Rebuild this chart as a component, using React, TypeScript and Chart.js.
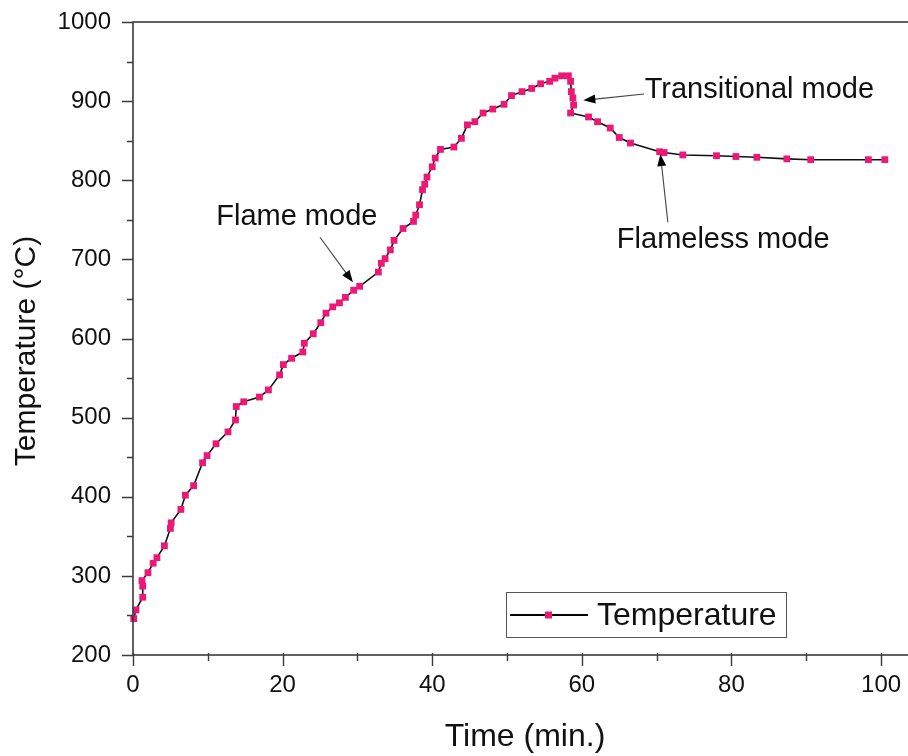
import React, { useEffect, useRef } from "react";
import { Chart, registerables } from "chart.js";

Chart.register(...registerables);

// ---- data ----
const timeMin = [
  0.1, 0.4, 1.3, 1.3, 1.2, 2.0, 2.7, 3.2, 4.2, 5.0, 5.1, 6.4, 7.0, 8.1, 9.3, 9.9,
  11.1, 12.7, 13.7, 13.8, 14.8, 16.9, 18.1, 19.6, 20.1, 21.2, 22.7, 22.9, 24.1,
  25.1, 25.8, 26.7, 27.6, 28.4, 29.5, 30.3, 32.8, 33.2, 33.7, 34.4, 34.9, 36.1,
  37.5, 37.8, 38.3, 38.7, 39.0, 39.3, 40.0, 40.4, 41.1, 42.9, 43.9, 44.7, 45.7,
  46.8, 48.1, 49.6, 50.6, 52.0, 53.3, 54.5, 55.7, 56.4, 57.3, 58.2, 58.5, 58.6,
  58.8, 58.9, 58.5, 60.9, 62.1, 63.8, 65.0, 66.5, 70.4, 71.0, 73.5, 78.0, 80.6,
  83.4, 87.4, 90.6, 98.3, 100.5,
];
const tempC = [
  246, 257, 273, 287, 294, 304, 316, 323, 338, 360, 367, 384, 402, 414, 443, 452,
  467, 482, 497, 514, 520, 526, 535, 554, 567, 575, 583, 594, 606,
  620, 632, 640, 645, 652, 661, 666, 684, 695, 701, 712, 724, 739,
  748, 756, 769, 788, 795, 804, 817, 828, 839, 842, 853, 870, 874,
  885, 890, 896, 907, 912, 916, 922, 925, 929, 932, 932, 925, 912,
  904, 895, 885, 880, 874, 866, 854, 847, 836, 835, 832, 831, 830,
  829, 827, 826, 826, 826,
];

const xMajorTicks = [0, 20, 40, 60, 80, 100];
const xMinorTicks = [10, 30, 50, 70, 90];
const yMajorTicks = [200, 300, 400, 500, 600, 700, 800, 900, 1000];
const yMinorTicks = [250, 350, 450, 550, 650, 750, 850, 950];

const seriesName = "Temperature";
const xTitle = "Time (min.)";
const yTitle = "Temperature (°C)";

// annotations (data coordinates)
const noteLabels = ["Flame mode", "Transitional mode", "Flameless mode"];
const noteTextX = [21.9, 68.4, 78.9];
const noteTextY = [753, 914, 724];
const noteAlign = ["center", "left", "center"];
const arrowTailX = [25.0, 68.3, 71.5];
const arrowTailY = [728, 909, 747];
const arrowTipX = [29.4, 60.2, 70.5];
const arrowTipY = [671, 901, 833];

const PINK = "rgb(236, 24, 118)";
const FONT = "'Liberation Sans', Arial, Helvetica, sans-serif";

export default function App() {
  const ref = useRef<HTMLCanvasElement>(null);

  useEffect(() => {
    const canvas = ref.current;
    if (!canvas) return;

    const points = timeMin.map((t, i) => ({ x: t, y: tempC[i] }));

    const overlay = {
      id: "overlay",
      afterDraw(chart: any) {
        const { ctx, chartArea } = chart;
        const xs = chart.scales.x;
        const ys = chart.scales.y;
        ctx.save();

        // frame
        ctx.strokeStyle = "#3a3a3a";
        ctx.lineWidth = 1.6;
        ctx.strokeRect(chartArea.left, chartArea.top, chartArea.right - chartArea.left, chartArea.bottom - chartArea.top);

        // ticks (outward)
        ctx.lineWidth = 1.4;
        ctx.beginPath();
        xMajorTicks.forEach((v) => {
          const px = Math.round(xs.getPixelForValue(v)) + 0.5;
          ctx.moveTo(px, chartArea.bottom - 2);
          ctx.lineTo(px, chartArea.bottom + 11);
        });
        xMinorTicks.forEach((v) => {
          const px = Math.round(xs.getPixelForValue(v)) + 0.5;
          ctx.moveTo(px, chartArea.bottom - 2);
          ctx.lineTo(px, chartArea.bottom + 6);
        });
        yMajorTicks.forEach((v) => {
          const py = Math.round(ys.getPixelForValue(v)) + 0.5;
          ctx.moveTo(chartArea.left - 11, py);
          ctx.lineTo(chartArea.left, py);
        });
        yMinorTicks.forEach((v) => {
          const py = Math.round(ys.getPixelForValue(v)) + 0.5;
          ctx.moveTo(chartArea.left - 6, py);
          ctx.lineTo(chartArea.left, py);
        });
        ctx.stroke();

        // axis titles
        ctx.fillStyle = "#111";
        ctx.textAlign = "center";
        ctx.textBaseline = "middle";
        ctx.font = `32px ${FONT}`;
        ctx.fillText(xTitle, 525, 737);
        ctx.font = `30px ${FONT}`;
        ctx.save();
        ctx.translate(27, 351);
        ctx.rotate(-Math.PI / 2);
        ctx.fillText(yTitle, 0, 0);
        ctx.restore();

        // annotations
        ctx.font = `29px ${FONT}`;
        noteLabels.forEach((label, i) => {
          ctx.textAlign = noteAlign[i] as CanvasTextAlign;
          ctx.textBaseline = "middle";
          ctx.fillStyle = "#111";
          ctx.fillText(label, xs.getPixelForValue(noteTextX[i]), ys.getPixelForValue(noteTextY[i]));

          const x0 = xs.getPixelForValue(arrowTailX[i]);
          const y0 = ys.getPixelForValue(arrowTailY[i]);
          const x1 = xs.getPixelForValue(arrowTipX[i]);
          const y1 = ys.getPixelForValue(arrowTipY[i]);
          const ang = Math.atan2(y1 - y0, x1 - x0);
          const hl = 12;
          const hw = 4.5;
          ctx.strokeStyle = "#444";
          ctx.lineWidth = 1.1;
          ctx.beginPath();
          ctx.moveTo(x0, y0);
          ctx.lineTo(x1 - Math.cos(ang) * hl * 0.8, y1 - Math.sin(ang) * hl * 0.8);
          ctx.stroke();
          ctx.fillStyle = "#000";
          ctx.beginPath();
          ctx.moveTo(x1, y1);
          ctx.lineTo(x1 - Math.cos(ang) * hl - Math.sin(ang) * hw, y1 - Math.sin(ang) * hl + Math.cos(ang) * hw);
          ctx.lineTo(x1 - Math.cos(ang) * hl + Math.sin(ang) * hw, y1 - Math.sin(ang) * hl - Math.cos(ang) * hw);
          ctx.closePath();
          ctx.fill();
        });

        // legend
        const lx = 506, ly = 592, lw = 280, lh = 45;
        ctx.fillStyle = "#fff";
        ctx.fillRect(lx, ly, lw, lh);
        ctx.strokeStyle = "#555";
        ctx.lineWidth = 1;
        ctx.strokeRect(lx + 0.5, ly + 0.5, lw, lh);
        const my = ly + lh / 2 + 0.5;
        ctx.strokeStyle = "#000";
        ctx.lineWidth = 2;
        ctx.beginPath();
        ctx.moveTo(lx + 4, my);
        ctx.lineTo(lx + 82, my);
        ctx.stroke();
        ctx.fillStyle = PINK;
        ctx.fillRect(lx + 39, my - 3.5, 7, 7);
        ctx.fillStyle = "#111";
        ctx.font = `32px ${FONT}`;
        ctx.textAlign = "left";
        ctx.textBaseline = "middle";
        ctx.fillText(seriesName, lx + 91, my + 1);

        ctx.restore();
      },
    };

    const chart = new Chart(canvas, {
      type: "line",
      data: {
        datasets: [
          {
            label: seriesName,
            data: points,
            borderColor: "#111",
            borderWidth: 1.6,
            tension: 0,
            pointStyle: "rect",
            pointRadius: 4.8,
            pointBorderWidth: 0,
            pointBackgroundColor: PINK,
            pointBorderColor: PINK,
            fill: false,
            clip: false as any,
          },
        ],
      },
      options: {
        responsive: false,
        animation: false,
        devicePixelRatio: 1,
        layout: { padding: { top: 22, left: 0, right: 0, bottom: 0 } },
        plugins: {
          legend: { display: false },
          tooltip: { enabled: false },
          title: { display: false },
        },
        scales: {
          x: {
            type: "linear",
            min: 0,
            max: 105.9,
            afterFit: (s: any) => {
              s.height = 101;
              s.paddingLeft = 0;
              s.paddingRight = 0;
            },
            grid: { display: false, drawTicks: false },
            border: { display: false },
            ticks: {
              stepSize: 20,
              includeBounds: false,
              padding: 16,
              color: "#111",
              font: { family: FONT, size: 24 },
              maxRotation: 0,
              callback: (v: any) => String(v),
            },
          },
          y: {
            type: "linear",
            min: 200,
            max: 1000,
            afterFit: (s: any) => {
              s.width = 133;
              s.paddingTop = 0;
              s.paddingBottom = 0;
            },
            grid: { display: false, drawTicks: false },
            border: { display: false },
            ticks: {
              stepSize: 100,
              padding: 22,
              color: "#111",
              font: { family: FONT, size: 24 },
              callback: (v: any) => String(v),
            },
          },
        },
      },
      plugins: [overlay],
    });

    return () => chart.destroy();
  }, []);

  return (
    <div
      style={{
        position: "absolute",
        left: 0,
        top: 0,
        width: 908,
        height: 756,
        overflow: "hidden",
        background: "#fff",
      }}
    >
      <canvas ref={ref} width={930} height={756} style={{ display: "block", width: 930, height: 756 }} />
    </div>
  );
}
